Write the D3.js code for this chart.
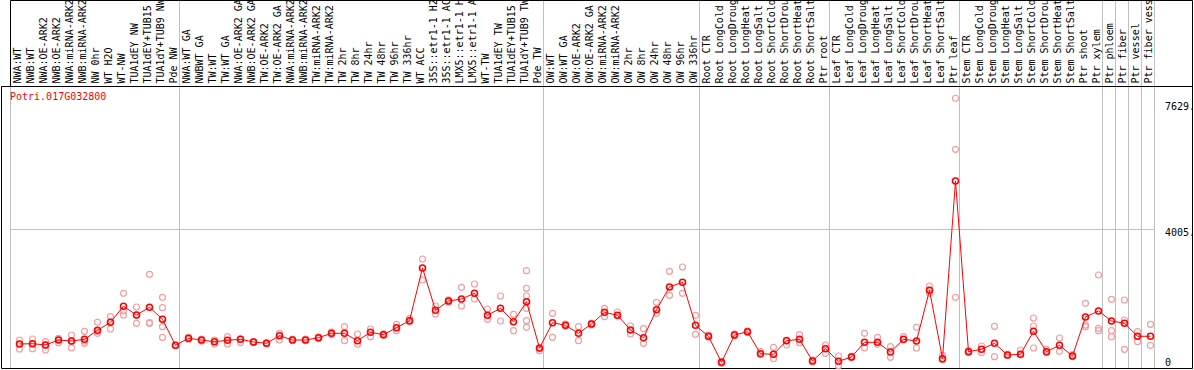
<!DOCTYPE html>
<html>
<head>
<meta charset="utf-8">
<script src="https://cdn.jsdelivr.net/npm/d3@7"></script>
<style>
  body { margin: 0; background: #fff; }
  svg { display: block; }
  text { font-family: "DejaVu Sans Mono", monospace; font-size: 10px; }
</style>
</head>
<body>
<svg id="chart"></svg>
<script>
/* sample names, as printed on top */
const samples = [
  "NWA:WT","NWB:WT","NWA:OE-ARK2","NWB:OE-ARK2","NWA:miRNA-ARK2","NWB:miRNA-ARK2",
  "NW 0hr","WT H2O","WT-NW","TUA1dEY NW","TUA1dEY+TUB15","TUA1dY+TUB9 NW","Pde NW",
  "NWA:WT GA","NWBWT GA","TW:WT","TW:WT GA","NWA:OE-ARK2 GA","NWB:OE-ARK2 GA",
  "TW:OE-ARK2","TW:OE-ARK2 GA","NWA:miRNA-ARK2","NWB:miRNA-ARK2","TW:miRNA-ARK2",
  "TW:miRNA-ARK2","TW 2hr","TW 8hr","TW 24hr","TW 48hr","TW 96hr","TW 336hr","WT ACC",
  "35S::etr1-1 H2","35S::etr1-1 AC","LMX5::etr1-1 H","LMX5::etr1-1 A","WT-TW",
  "TUA1dEY TW","TUA1dEY+TUB15","TUA1dY+TUB9 TW","Pde TW",
  "OW:WT","OW:WT GA","OW:OE-ARK2","OW:OE-ARK2 GA","OW:miRNA-ARK2","OW:miRNA-ARK2",
  "OW 2hr","OW 8hr","OW 24hr","OW 48hr","OW 96hr","OW 336hr",
  "Root CTR","Root LongCold","Root LongDroug","Root LongHeat","Root LongSalt",
  "Root ShortCold","Root ShortDrou","Root ShortHeat","Root ShortSalt","Ptr root",
  "Leaf CTR","Leaf LongCold","Leaf LongDroug","Leaf LongHeat","Leaf LongSalt",
  "Leaf ShortCold","Leaf ShortDrou","Leaf ShortHeat","Leaf ShortSalt","Ptr leaf",
  "Stem CTR","Stem LongCold","Stem LongDroug","Stem LongHeat","Stem LongSalt",
  "Stem ShortCold","Stem ShortDrou","Stem ShortHeat","Stem ShortSalt","Ptr shoot",
  "Ptr xylem","Ptr phloem","Ptr fiber","Ptr vessel","Ptr fiber vess"
];

const meanValues = [
  690,699,661,805,777,825,1084,1314,1775,1524,1746,1401,653,
  854,805,756,797,825,748,710,929,805,805,871,998,998,785,1027,958,1159,1360,2876,
  1659,1927,1984,2148,1516,1717,1332,1907,575,
  1303,1228,998,1265,1602,1516,1093,871,1677,2330,2465,1228,
  912,164,949,1044,411,394,785,825,201,555,
  193,316,739,739,460,825,777,2235,267,5378,
  469,538,710,374,394,1055,469,653,345,1467,1639,
  1352,1286,912,912
];

const replicates = [
  [805,546,690],[834,555,699],[756,518,661],[854,728,805],[949,584,777],[1055,710,777],
  [1314,998,1050],[1475,1122,1330],[2148,1524,1639],[1754,1286,1524],[2695,1286,1303],[2033,1734,1188,883],[661,640],
  [880,830],[830,780],[805,690],[900,690],[837,730],[760,730],[720,700],[998,805],[830,790],
  [830,790],[890,850],[1030,960],[1188,785],[978,682],[1122,900],[980,940],[1257,1073],[1420,1330],[3135,2531],
  [1783,1553],[1960,1900],[2321,1783],[2416,1984],[1697,1401],[2071,1352],[1544,1073],[2798,2292,2071,1717,1360,1171],[498,560],
  [1573,883],[1260,1200],[1188,785],[1290,1240],[1717,1475],[1611,1500],[1208,978],[1130,710],[1890,1573],[2781,2091],[2905,2148],[1516,969],
  [949,890],[190,140],[980,930],[1070,1020],[469,400],[595,267],[661,800],[958,728],[230,180],[661,423],
  [345,66],[340,300],[998,584],[883,682],[613,308],[900,810],[1171,575],[2358,2148],[365,240],[7757,6290,2033],
  [498,450],[633,440],[1199,325],[390,360],[518,380],[1438,1208,575],[538,450],[863,480],[383,330],[1861,1237,1188],[2675,1142,1073],
  [1976,1073,900],[1956,1380,538],[1044,756],[1257,653]
];

// column index where a grey separator is drawn (left edge of that column)
const separators = [0, 13, 41, 53, 63, 73, 84, 85, 86, 87, 88];
const yTicks = [7629, 4005, 0];
const geneId = "Potri.017G032800";

const W = 1194, H = 370;
const plotTop = 86, plotBottom = 368, plotLeft = 11, plotRight = 1155;

const svg = d3.select("#chart").attr("width", W).attr("height", H);

const x = d3.scaleBand()
  .domain(d3.range(samples.length))
  .range([plotLeft, plotRight])
  .padding(0);
const px = i => x(i) + 8.5;

const y = d3.scaleLinear()
  .domain([0, 8110])
  .range([plotBottom, plotTop]);

// grey grid
svg.append("g")
  .selectAll("line")
  .data(separators)
  .enter().append("line")
    .attr("x1", k => plotLeft + k * x.bandwidth() - 0.5)
    .attr("x2", k => plotLeft + k * x.bandwidth() - 0.5)
    .attr("y1", 0)
    .attr("y2", plotBottom)
    .attr("stroke", "#c0c0c0")
    .attr("stroke-width", 1);

svg.append("line")
  .attr("x1", plotLeft).attr("x2", plotRight)
  .attr("y1", Math.round(y(4005)) + 0.5).attr("y2", Math.round(y(4005)) + 0.5)
  .attr("stroke", "#c0c0c0");

// sample labels
svg.append("g")
  .selectAll("text")
  .data(samples)
  .enter().append("text")
    .attr("transform", (d, i) => `translate(${px(i) + 1.5},83.5) rotate(-90)`)
    .attr("fill", "#000")
    .text(d => d);

// frame: label box on top, plot box below
const black = "#000";
svg.append("path")
  .attr("d", "M10.5,86 V0.5 H1192.5 V368.5 H1.5 V86.5 H1193")
  .attr("fill", "none")
  .attr("stroke", black);

// right axis labels
svg.append("g")
  .selectAll("text")
  .data(yTicks)
  .enter().append("text")
    .attr("x", 1165)
    .attr("y", d => d === 0 ? y(d) - 2.5 : y(d) + 7.5)
    .attr("fill", "#000")
    .text(d => d === 0 ? "0" : d + ".");

svg.append("text")
  .attr("x", 10)
  .attr("y", 99.5)
  .attr("fill", "#ff0000")
  .text(geneId);

// replicate circles
const repPts = [];
replicates.forEach((arr, i) => arr.forEach(v => repPts.push({ i, v })));
svg.append("g")
  .selectAll("circle")
  .data(repPts)
  .enter().append("circle")
    .attr("cx", d => px(d.i))
    .attr("cy", d => y(d.v))
    .attr("r", 3)
    .attr("fill", "none")
    .attr("stroke", "#f0a0a0")
    .attr("stroke-width", 1.2);

// mean line
const line = d3.line()
  .x((d, i) => px(i))
  .y(d => y(d));
svg.append("path")
  .datum(meanValues)
  .attr("d", line)
  .attr("fill", "none")
  .attr("stroke", "#ff0000")
  .attr("stroke-width", 1);

svg.append("g")
  .selectAll("circle")
  .data(meanValues)
  .enter().append("circle")
    .attr("cx", (d, i) => px(i))
    .attr("cy", d => y(d))
    .attr("r", 3)
    .attr("fill", "none")
    .attr("stroke", "#ff0000")
    .attr("stroke-width", 1.6);
</script>
</body>
</html>
